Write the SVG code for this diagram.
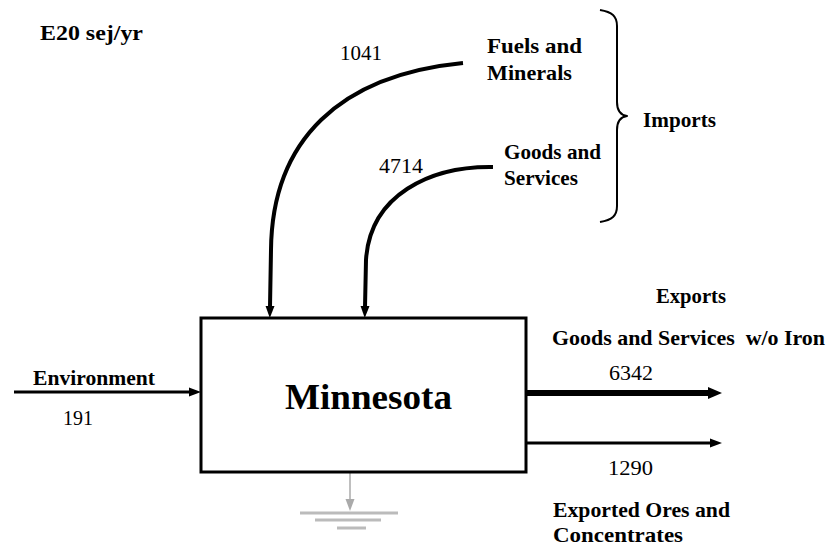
<svg xmlns="http://www.w3.org/2000/svg" width="827" height="546" viewBox="0 0 827 546">
<style>
text{font-family:"Liberation Serif","Times New Roman",serif;fill:#000}
.b{font-weight:bold;font-size:21px}
.r{font-size:20px}
.m{font-weight:bold;font-size:35px}
.f{fill:none;stroke:#000;stroke-linejoin:round}
</style>
<defs>
<marker id="ah" markerUnits="userSpaceOnUse" markerWidth="12" markerHeight="12" viewBox="0 0 12 12" refX="1" refY="6" orient="auto"><path d="M0,1.5 L12,6 L0,10.5 Z" fill="#000"/></marker>
<marker id="ahb" markerUnits="userSpaceOnUse" markerWidth="14" markerHeight="14" viewBox="0 0 14 14" refX="1" refY="7" orient="auto"><path d="M0,1 L14,7 L0,13 Z" fill="#000"/></marker>
<marker id="ahg" markerUnits="userSpaceOnUse" markerWidth="12" markerHeight="12" viewBox="0 0 12 12" refX="1" refY="6" orient="auto"><path d="M0,1.5 L12,6 L0,10.5 Z" fill="#aaa"/></marker>
</defs>
<rect width="827" height="546" fill="#fff"/>
<text class="b" x="40" y="40" textLength="103" lengthAdjust="spacingAndGlyphs">E20 sej/yr</text>
<g id="connectors">
<path class="f" stroke-width="4" d="M463,63 C340,75 272,140 271,250 L270,307" marker-end="url(#ah)"/>
<path class="f" stroke-width="4" d="M493,167 C430,166 370,195 366,260 L365,307" marker-end="url(#ah)"/>
<line x1="14" y1="392" x2="190" y2="392" stroke="#000" stroke-width="3" marker-end="url(#ah)"/>
<line x1="526" y1="393" x2="709" y2="393" stroke="#000" stroke-width="6" marker-end="url(#ahb)"/>
<line x1="526" y1="443" x2="711" y2="443" stroke="#000" stroke-width="3" marker-end="url(#ah)"/>
<line x1="350" y1="473" x2="350" y2="500" stroke="#aaa" stroke-width="1.5" marker-end="url(#ahg)"/>
</g>
<g id="minnesota">
<rect x="201" y="318" width="325" height="154" fill="#fff" stroke="#000" stroke-width="3"/>
<text class="m" x="285" y="409" textLength="167" lengthAdjust="spacingAndGlyphs">Minnesota</text>
</g>
<g id="ground">
<line x1="300" y1="513" x2="398" y2="513" stroke="#bbb" stroke-width="3"/>
<line x1="315" y1="520" x2="381" y2="520" stroke="#bbb" stroke-width="3"/>
<line x1="337" y1="528" x2="366" y2="528" stroke="#bbb" stroke-width="3"/>
</g>
<g id="imports">
<path class="f" stroke-width="2" d="M600,10 C612,12 617,16 617,26 L617,102 C617,110 620,115 627,116 C620,117 617,122 617,130 L617,206 C617,216 612,220 600,222"/>
<text class="b" x="643" y="127" textLength="73" lengthAdjust="spacingAndGlyphs">Imports</text>
</g>
<g id="fuels">
<text class="r" x="340" y="60" textLength="42" lengthAdjust="spacingAndGlyphs">1041</text>
<text class="b" x="487" y="53" textLength="95" lengthAdjust="spacingAndGlyphs">Fuels and</text>
<text class="b" x="487" y="80" textLength="85" lengthAdjust="spacingAndGlyphs">Minerals</text>
</g>
<g id="goods">
<text class="r" x="379" y="173" textLength="44" lengthAdjust="spacingAndGlyphs">4714</text>
<text class="b" x="504" y="159" textLength="97" lengthAdjust="spacingAndGlyphs">Goods and</text>
<text class="b" x="504" y="185" textLength="74" lengthAdjust="spacingAndGlyphs">Services</text>
</g>
<g id="environment">
<text class="b" x="33" y="385" textLength="122" lengthAdjust="spacingAndGlyphs">Environment</text>
<text class="r" x="63" y="425" textLength="30" lengthAdjust="spacingAndGlyphs">191</text>
</g>
<g id="exports">
<text class="b" x="656" y="303" textLength="70" lengthAdjust="spacingAndGlyphs">Exports</text>
<text class="b" x="552" y="345" textLength="273" lengthAdjust="spacingAndGlyphs" xml:space="preserve">Goods and Services  w/o Iron</text>
<text class="r" x="609" y="380" textLength="44" lengthAdjust="spacingAndGlyphs">6342</text>
<text class="r" x="608" y="475" textLength="45" lengthAdjust="spacingAndGlyphs">1290</text>
<text class="b" x="553" y="517" textLength="177" lengthAdjust="spacingAndGlyphs">Exported Ores and</text>
<text class="b" x="553" y="542" textLength="130" lengthAdjust="spacingAndGlyphs">Concentrates</text>
</g>
</svg>
